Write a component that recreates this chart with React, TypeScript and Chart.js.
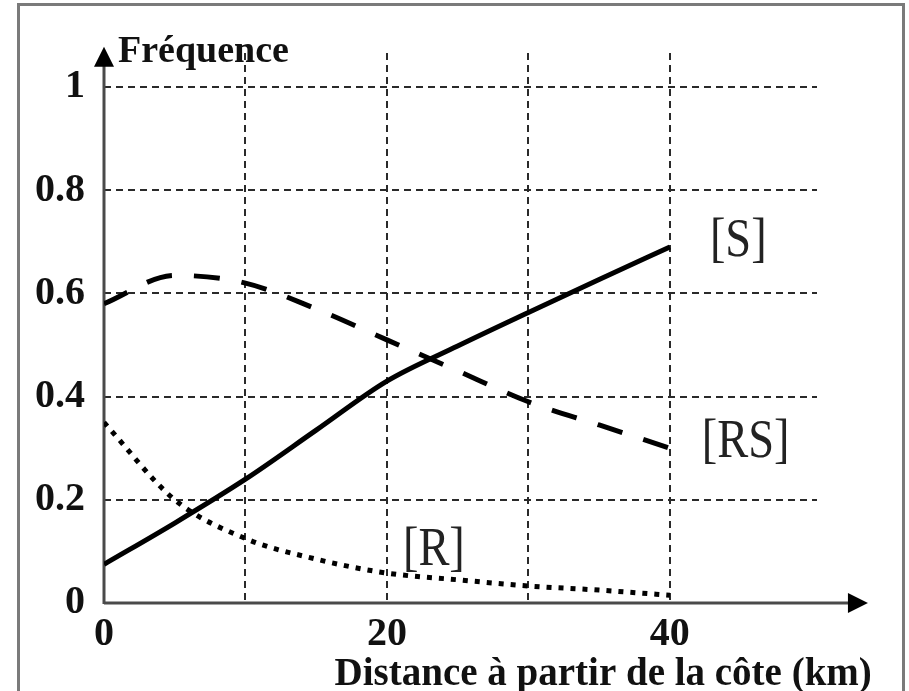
import React, { useEffect, useRef } from "react";
import { Chart, registerables } from "chart.js";

Chart.register(...registerables);

// ---- data ----
const distances = [0, 5, 10, 15, 20, 25, 30, 35, 40];
const freqS = [0.075, 0.155, 0.24, 0.335, 0.43, 0.498, 0.563, 0.627, 0.69];
const freqRS = [0.58, 0.635, 0.62, 0.57, 0.51, 0.45, 0.39, 0.345, 0.3];
const freqR = [0.35, 0.2, 0.125, 0.085, 0.058, 0.045, 0.033, 0.025, 0.015];

const yTickValues = [0, 0.2, 0.4, 0.6, 0.8, 1];
const xGridValues = [0, 10, 20, 30, 40];
const xLabelValues = [0, 20, 40];

const yAxisTitle = "Fréquence";
const xAxisTitle = "Distance à partir de la côte (km)";
const seriesNames = ["[S]", "[RS]", "[R]"];

// ---- layout / style ----
const W = 909;
const H = 691;
const SERIF = '"Liberation Serif", "Times New Roman", serif';
const X_MAX = 50.4;
const Y_MAX = 1.066;
const X_ARROW = 54;
const Y_ARROW = 1.078;

// label anchors in data units (left, baseline)
const labelAnchors = [
  { x: 42.83, y: 0.6725 },
  { x: 42.26, y: 0.283 },
  { x: 21.13, y: 0.0736 },
];

const decorPlugin = {
  id: "decor",
  beforeDraw(chart: any) {
    const { ctx } = chart;
    ctx.save();
    ctx.fillStyle = "#ffffff";
    ctx.fillRect(0, 0, chart.width, chart.height);
    ctx.strokeStyle = "#7a7a7a";
    ctx.lineWidth = 3;
    ctx.strokeRect(18.5, 4.5, 885, 740);
    ctx.restore();
  },
  beforeDatasetsDraw(chart: any) {
    const { ctx, scales } = chart;
    const xs = scales.x;
    const ys = scales.y;
    const ox = xs.getPixelForValue(0);
    const oy = ys.getPixelForValue(0);
    const xTip = xs.getPixelForValue(X_ARROW);
    const yTip = ys.getPixelForValue(Y_ARROW);
    ctx.save();
    ctx.strokeStyle = "#4a4a4a";
    ctx.lineWidth = 3;
    ctx.beginPath();
    ctx.moveTo(ox, oy);
    ctx.lineTo(xTip - 12, oy);
    ctx.moveTo(ox, oy + 1);
    ctx.lineTo(ox, yTip + 12);
    ctx.stroke();
    ctx.fillStyle = "#000";
    ctx.beginPath();
    ctx.moveTo(xTip, oy);
    ctx.lineTo(xTip - 20, oy - 10);
    ctx.lineTo(xTip - 20, oy + 10);
    ctx.closePath();
    ctx.fill();
    ctx.beginPath();
    ctx.moveTo(ox, yTip);
    ctx.lineTo(ox - 10, yTip + 20);
    ctx.lineTo(ox + 10, yTip + 20);
    ctx.closePath();
    ctx.fill();
    ctx.restore();
  },
  afterDraw(chart: any) {
    const { ctx, scales } = chart;
    const xs = scales.x;
    const ys = scales.y;
    ctx.save();
    ctx.fillStyle = "#111";
    ctx.textBaseline = "alphabetic";
    ctx.textAlign = "left";
    ctx.font = `bold 38px ${SERIF}`;
    ctx.fillText(yAxisTitle, xs.getPixelForValue(0.99), ys.getPixelForValue(1.048));
    ctx.font = `bold 39px ${SERIF}`;
    ctx.fillText(xAxisTitle, xs.getPixelForValue(16.3), ys.getPixelForValue(-0.159));

    ctx.fillStyle = "#222";
    ctx.font = `54px ${SERIF}`;
    const sx = 0.86;
    seriesNames.forEach((name, i) => {
      const a = labelAnchors[i];
      const px = xs.getPixelForValue(a.x);
      const py = ys.getPixelForValue(a.y);
      ctx.save();
      ctx.translate(px, py);
      ctx.scale(sx, 1);
      ctx.fillText(name, 0, 0);
      ctx.restore();
    });
    ctx.restore();
  },
};

function pts(values: number[]) {
  return distances.map((d, i) => ({ x: d, y: values[i] }));
}

export default function App() {
  const ref = useRef<HTMLCanvasElement | null>(null);

  useEffect(() => {
    if (!ref.current) return;
    const gridColor = (c: any) => (c.tick && c.tick.value === 0 ? "rgba(0,0,0,0)" : "#2a2a2a");
    const chart = new Chart(ref.current, {
      type: "line",
      data: {
        datasets: [
          {
            label: seriesNames[0],
            data: pts(freqS),
            borderColor: "#000",
            borderWidth: 5,
            pointRadius: 0,
            cubicInterpolationMode: "monotone",
            borderCapStyle: "butt",
            fill: false,
          },
          {
            label: seriesNames[1],
            data: pts(freqRS),
            borderColor: "#000",
            borderWidth: 5,
            borderDash: [26, 22],
            pointRadius: 0,
            cubicInterpolationMode: "monotone",
            borderCapStyle: "butt",
            fill: false,
          },
          {
            label: seriesNames[2],
            data: pts(freqR),
            borderColor: "#000",
            borderWidth: 5,
            borderDash: [5, 7],
            pointRadius: 0,
            cubicInterpolationMode: "monotone",
            borderCapStyle: "butt",
            fill: false,
          },
        ],
      },
      options: {
        animation: false,
        responsive: false,
        devicePixelRatio: 1,
        layout: { padding: { left: 0, right: W - 817, top: 53, bottom: 0 } },
        plugins: {
          legend: { display: false },
          tooltip: { enabled: false },
        },
        scales: {
          x: {
            type: "linear",
            min: 0,
            max: X_MAX,
            afterBuildTicks: (scale: any) => {
              scale.ticks = xGridValues.map((v) => ({ value: v }));
            },
            afterFit: (scale: any) => {
              scale.height = H - 603;
            },
            ticks: {
              autoSkip: false,
              maxRotation: 0,
              padding: 8,
              color: "#111",
              font: { family: SERIF, size: 40, weight: "bold" },
              callback: (v: any) => (xLabelValues.includes(Number(v)) ? String(v) : ""),
            },
            grid: { color: gridColor, lineWidth: 2, drawTicks: false },
            border: { display: false, dash: [7, 5] },
          },
          y: {
            type: "linear",
            min: 0,
            max: Y_MAX,
            afterBuildTicks: (scale: any) => {
              scale.ticks = yTickValues.map((v) => ({ value: v }));
            },
            afterFit: (scale: any) => {
              scale.width = 104;
            },
            ticks: {
              autoSkip: false,
              padding: 19,
              color: "#111",
              font: { family: SERIF, size: 40, weight: "bold" },
              callback: (v: any) => String(v),
            },
            grid: { color: gridColor, lineWidth: 2, drawTicks: false },
            border: { display: false, dash: [7, 5] },
          },
        },
      },
      plugins: [decorPlugin],
    } as any);
    return () => chart.destroy();
  }, []);

  return (
    <div style={{ position: "absolute", left: 0, top: 0, width: W, height: H, background: "#fff" }}>
      <canvas ref={ref} width={W} height={H} style={{ width: W, height: H, display: "block" }} />
    </div>
  );
}
